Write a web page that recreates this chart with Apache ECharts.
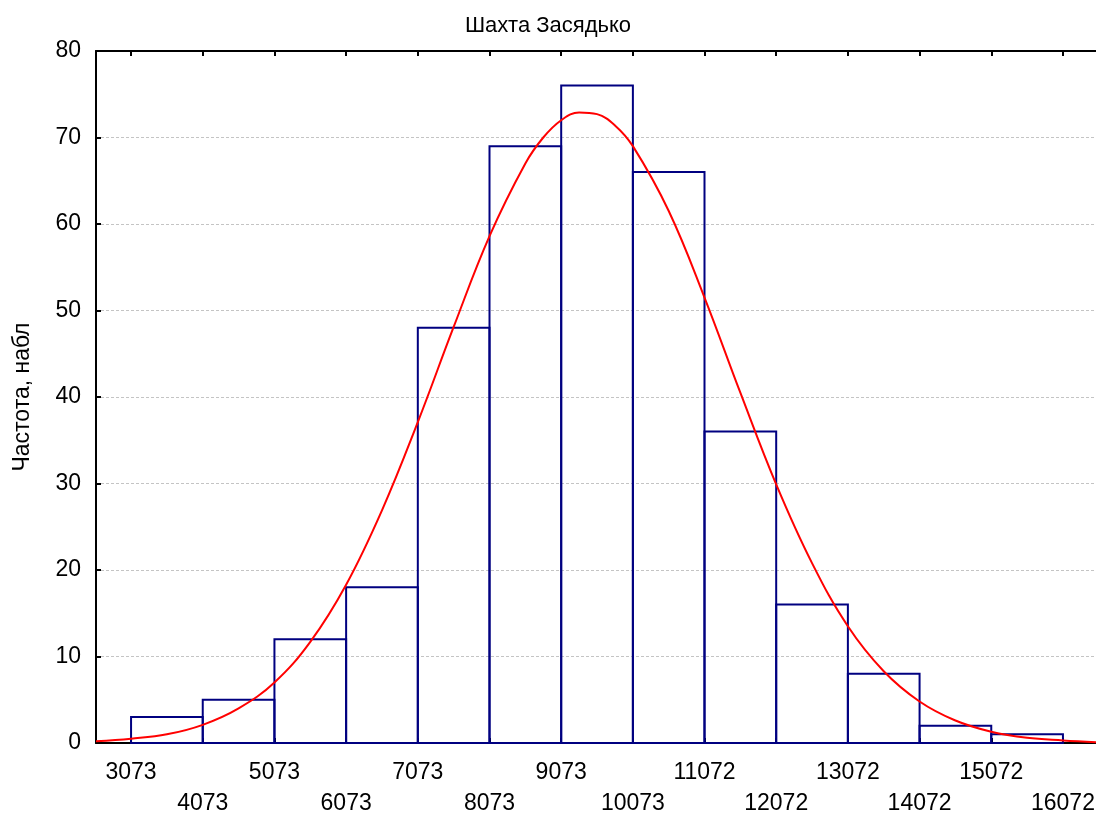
<!DOCTYPE html>
<html>
<head>
<meta charset="utf-8">
<script src="https://cdn.jsdelivr.net/npm/echarts@6/dist/echarts.min.js"></script>
<style>
  html, body { margin: 0; padding: 0; background: #fff; }
  #chart { width: 1096px; height: 813px; }
</style>
</head>
<body>
<div id="chart"></div>
<script>
// границы интервалов (подписи оси X)
const binEdges = [3073, 4073, 5073, 6073, 7073, 8073, 9073, 10073, 11072, 12072, 13072, 14072, 15072, 16072]
const edgeLabels = ['3073', '4073', '5073', '6073', '7073', '8073', '9073', '10073', '11072', '12072', '13072', '14072', '15072', '16072']
// частоты по интервалам
const binCounts = [3, 5, 12, 18, 48, 69, 76, 66, 36, 16, 8, 2, 1]
// нормальная кривая
const curveX = [2584, 3073, 3573, 4073, 4573, 5073, 5573, 6073, 6573, 7073, 7573, 8073, 8573, 8823, 9073, 9323, 9573, 9823,
  10073, 10573, 11072, 11572, 12072, 12572, 13072, 13572, 14072, 14572, 15072, 15572, 16072, 16533]
const curveY = [0.2, 0.5, 1.0, 2.1, 4.0, 7.0, 11.7, 18.3, 26.9, 37.1, 48.1, 58.6, 67.0, 70.0, 72.0, 72.9, 72.7, 71.4,
  69.0, 61.5, 51.5, 40.5, 29.9, 20.8, 13.5, 8.3, 4.8, 2.6, 1.3, 0.6, 0.3, 0.1]

const font = 'Liberation Sans, Arial, sans-serif'

const bars = binCounts.map((c, i) => [binEdges[i], binEdges[i + 1], c])
const curve = curveX.map((x, i) => [x, curveY[i]])

const chart = echarts.init(document.getElementById('chart'))
chart.setOption({
  animation: false,
  backgroundColor: '#fff',
  title: {
    text: 'Шахта Засядько',
    left: 'center',
    top: 10,
    textStyle: { fontFamily: font, fontSize: 22, fontWeight: 'normal', color: '#000' },
  },
  grid: { left: 96, right: 0, top: 51, bottom: 70, outerBoundsMode: 'none' },
  xAxis: [
    {
      type: 'value',
      min: 2584,
      max: 16533,
      axisLine: { show: true, onZero: false, lineStyle: { color: '#000', width: 2 } },
      axisTick: { show: true, inside: true, length: 5, customValues: binEdges, lineStyle: { color: '#000', width: 2 } },
      axisLabel: {
        customValues: binEdges,
        margin: 14,
        fontFamily: font,
        fontSize: 23,
        color: '#000',
        lineHeight: 31,
        showMinLabel: true,
        showMaxLabel: true,
        hideOverlap: false,
        formatter: (v) => {
          const i = binEdges.indexOf(v)
          if (i < 0) return ''
          return i % 2 === 0 ? edgeLabels[i] : '\n' + edgeLabels[i]
        },
      },
      splitLine: { show: false },
    },
    {
      type: 'value',
      position: 'top',
      min: 2584,
      max: 16533,
      axisLine: { show: true, onZero: false, lineStyle: { color: '#000', width: 2 } },
      axisTick: { show: true, inside: true, length: 5, customValues: binEdges, lineStyle: { color: '#000', width: 2 } },
      axisLabel: { show: false },
      splitLine: { show: false },
    },
  ],
  yAxis: {
    type: 'value',
    min: 0,
    max: 80,
    interval: 10,
    name: 'Частота, набл',
    nameLocation: 'middle',
    nameGap: 62,
    nameTextStyle: { fontFamily: font, fontSize: 23, color: '#000' },
    axisLine: { show: true, lineStyle: { color: '#000', width: 2 } },
    axisTick: { show: true, inside: true, length: 5, lineStyle: { color: '#000', width: 2 } },
    axisLabel: { margin: 15, fontFamily: font, fontSize: 23, color: '#000' },
    splitLine: { show: true, lineStyle: { color: '#c4c4c4', width: 1, type: [3, 2] } },
  },
  series: [
    {
      type: 'custom',
      name: 'Гистограмма',
      data: bars,
      encode: { x: [0, 1], y: 2 },
      z: 3,
      renderItem: (params, api) => {
        const p0 = api.coord([api.value(0), api.value(2)])
        const p1 = api.coord([api.value(1), 0])
        return {
          type: 'rect',
          shape: { x: p0[0], y: p0[1], width: p1[0] - p0[0], height: p1[1] - p0[1] },
          style: { fill: 'none', stroke: '#000080', lineWidth: 2 },
        }
      },
    },
    {
      type: 'line',
      name: 'Нормальная',
      data: curve,
      smooth: 0.4,
      symbol: 'none',
      z: 4,
      lineStyle: { color: '#ff0000', width: 2 },
    },
  ],
})
</script>
</body>
</html>
